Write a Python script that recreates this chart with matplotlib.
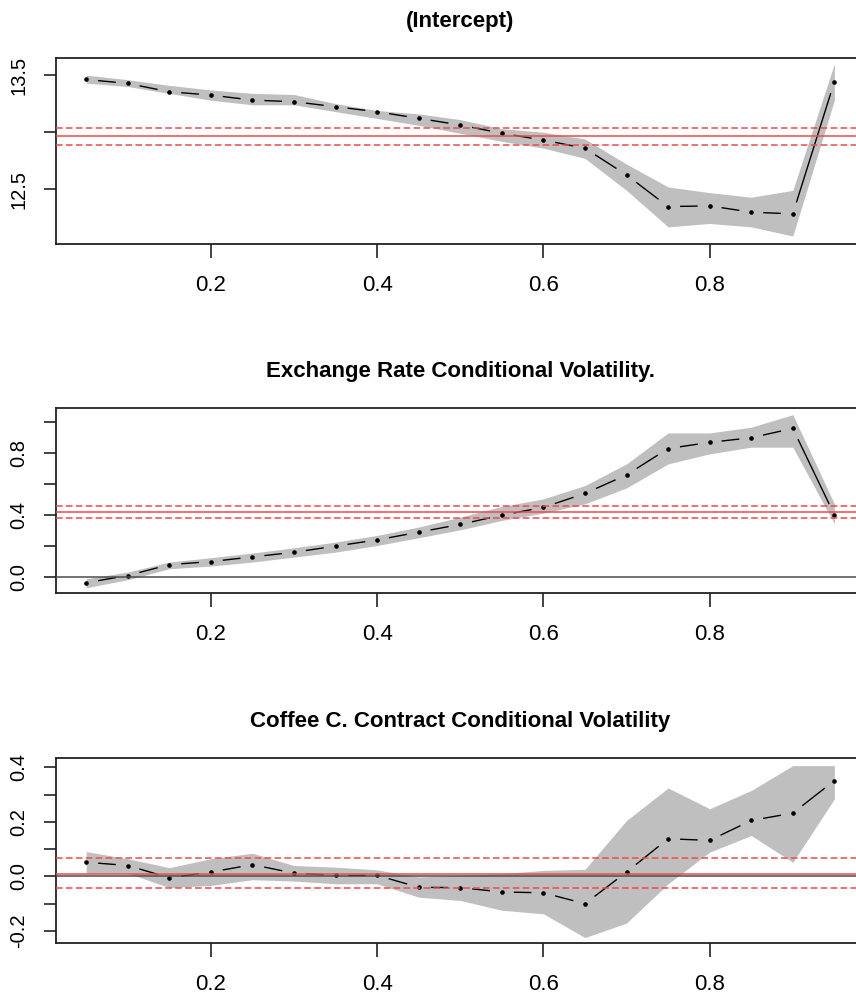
import numpy as np
import matplotlib
matplotlib.use('Agg')
import matplotlib.pyplot as plt

# cuantiles
taus = [0.05, 0.10, 0.15, 0.20, 0.25, 0.30, 0.35, 0.40, 0.45, 0.50,
        0.55, 0.60, 0.65, 0.70, 0.75, 0.80, 0.85, 0.90, 0.95]

# (Intercept)
int_coef = [13.462, 13.427, 13.354, 13.325, 13.281, 13.267, 13.223, 13.179, 13.121, 13.063,
            12.990, 12.931, 12.859, 12.625, 12.348, 12.354, 12.299, 12.284, 13.442]
int_lower = [13.43, 13.40, 13.34, 13.28, 13.24, 13.24, 13.18, 13.12, 13.06, 12.99,
             12.92, 12.86, 12.77, 12.49, 12.17, 12.20, 12.17, 12.09, 13.28]
int_upper = [13.50, 13.46, 13.41, 13.37, 13.34, 13.33, 13.25, 13.19, 13.16, 13.11,
             13.03, 13.00, 12.94, 12.72, 12.52, 12.47, 12.43, 12.49, 13.60]
int_ols = 12.966
int_ols_ci = [12.888, 13.034]

# Exchange Rate Conditional Volatility
er_coef = [-0.037, 0.010, 0.080, 0.100, 0.130, 0.160, 0.200, 0.240, 0.290, 0.340,
           0.400, 0.450, 0.540, 0.660, 0.830, 0.870, 0.900, 0.960, 0.402]
er_lower = [-0.069, -0.017, 0.054, 0.071, 0.097, 0.129, 0.161, 0.204, 0.254, 0.305,
            0.366, 0.413, 0.473, 0.576, 0.731, 0.796, 0.839, 0.839, 0.344]
er_upper = [-0.011, 0.032, 0.097, 0.125, 0.155, 0.189, 0.226, 0.269, 0.323, 0.387,
            0.456, 0.505, 0.591, 0.731, 0.931, 0.931, 0.968, 1.049, 0.473]
er_ols = 0.419
er_ols_ci = [0.383, 0.462]

# Coffee C. Contract Conditional Volatility
cf_coef = [0.052, 0.040, -0.005, 0.016, 0.043, 0.012, 0.004, 0.004, -0.040, -0.041,
           -0.057, -0.060, -0.100, 0.016, 0.138, 0.132, 0.205, 0.232, 0.351]
cf_lower = [0.010, 0.012, -0.041, -0.033, -0.012, -0.017, -0.027, -0.027, -0.076, -0.088,
            -0.124, -0.137, -0.224, -0.171, -0.027, 0.089, 0.150, 0.052, 0.284]
cf_upper = [0.091, 0.065, 0.032, 0.065, 0.085, 0.040, 0.034, 0.024, -0.002, 0.004,
            0.010, 0.022, 0.026, 0.205, 0.324, 0.248, 0.315, 0.406, 0.406]
cf_ols = 0.010
cf_ols_ci = [-0.043, 0.067]

titulos = ["(Intercept)",
           "Exchange Rate Conditional Volatility.",
           "Coffee C. Contract Conditional Volatility"]

x_ticks = [0.2, 0.4, 0.6, 0.8]
x_labels = ["0.2", "0.4", "0.6", "0.8"]

y_ticks = [[12.5, 13.0, 13.5],
           [0.0, 0.2, 0.4, 0.6, 0.8, 1.0],
           [-0.2, -0.1, 0.0, 0.1, 0.2, 0.3, 0.4]]
y_labels = [["12.5", "", "13.5"],
            ["0.0", "", "0.4", "", "0.8", ""],
            ["-0.2", "", "0.0", "", "0.2", "", "0.4"]]
y_lims = [(12.02, 13.65), (-0.103, 1.092), (-0.244, 0.434)]

paneles = [(int_coef, int_lower, int_upper, int_ols, int_ols_ci),
           (er_coef, er_lower, er_upper, er_ols, er_ols_ci),
           (cf_coef, cf_lower, cf_upper, cf_ols, cf_ols_ci)]

# posicion de cada panel (fraccion de figura), el borde derecho queda fuera
pos = [[0.0657, 0.756, 0.944, 0.186],
       [0.0657, 0.407, 0.944, 0.185],
       [0.0657, 0.057, 0.944, 0.185]]

fuente = ['Liberation Sans', 'DejaVu Sans']

gris_banda = '#BFBFBF'
rojo = '#EE4A4A'


def linea_b(ax, x, y, gap=12):
    # como type="b" de R: segmentos cortados alrededor de cada punto
    pts = ax.transData.transform(np.column_stack([x, y]))
    inv = ax.transData.inverted()
    for i in range(len(pts) - 1):
        p0 = pts[i]
        p1 = pts[i + 1]
        d = p1 - p0
        L = np.hypot(d[0], d[1])
        if L <= 2 * gap:
            continue
        a = inv.transform(p0 + d / L * gap)
        b = inv.transform(p1 - d / L * gap)
        ax.plot([a[0], b[0]], [a[1], b[1]], color='black', lw=1.0,
                solid_capstyle='butt', zorder=3)


fig = plt.figure(figsize=(8.56, 10.0), dpi=100)

for i in range(3):
    coef, lower, upper, ols, ols_ci = paneles[i]
    ax = fig.add_axes(pos[i])
    ax.set_xlim(0.014, 0.986)
    ax.set_ylim(*y_lims[i])

    ax.fill_between(taus, lower, upper, color=gris_banda, lw=0, zorder=1)
    linea_b(ax, taus, coef)
    ax.plot(taus, coef, ls='none', marker='o', ms=2.3, color='black', zorder=4)

    ax.axhline(ols, color=rojo, lw=1.1, zorder=5)
    for v in ols_ci:
        ax.axhline(v, color=rojo, lw=1.1, dashes=(4.3, 2.2), zorder=5)
    ax.axhline(0, color='#4D4D4D', lw=1.1, zorder=6)

    for s in ['left', 'bottom', 'top', 'right']:
        ax.spines[s].set_linewidth(1.3)
        ax.spines[s].set_color('#222222')

    ax.set_xticks(x_ticks)
    ax.set_xticklabels(x_labels, family=fuente, fontsize=16)
    ax.set_yticks(y_ticks[i])
    ax.set_yticklabels(y_labels[i], family=fuente, fontsize=14.5, rotation=90,
                       va='center')
    ax.tick_params(axis='x', length=10, width=1.2, pad=12, color='#222222')
    ax.tick_params(axis='y', length=9, width=1.2, pad=11, color='#222222')

    ax.set_title(titulos[i], family=fuente, fontsize=16, fontweight='bold', pad=22)

fig.savefig('out.png', dpi=100)
